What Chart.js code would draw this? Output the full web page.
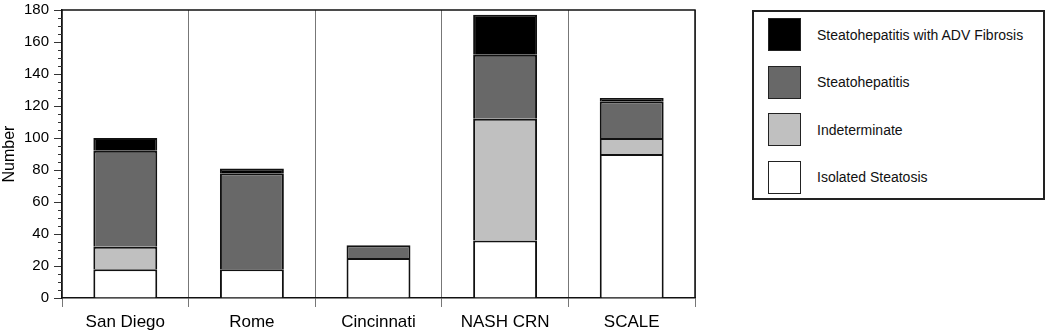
<!DOCTYPE html>
<html>
<head>
<meta charset="utf-8">
<script src="https://cdn.jsdelivr.net/npm/chart.js@4.4.1/dist/chart.umd.min.js"></script>
<style>
  body { margin: 0; background: #fff; font-family: "Liberation Sans", Arial, sans-serif; }
  #wrap { position: relative; width: 1050px; height: 336px; }
  #legend {
    position: absolute; left: 752px; top: 10px; width: 289px; height: 186px;
    border: 2px solid #222; background: #fff;
  }
  .item { position: absolute; left: 14px; height: 33px; display: flex; align-items: center; }
  .sw { width: 31px; height: 31px; border: 1.5px solid #222; margin-right: 16px; }
  .lbl { font-size: 14px; color: #111; }
</style>
</head>
<body>
<div id="wrap">
  <canvas id="chart" width="1050" height="336"></canvas>
  <div id="legend"></div>
</div>
<script>
var sites = ['San Diego', 'Rome', 'Cincinnati', 'NASH CRN', 'SCALE'];
var isolatedSteatosis = [18, 18, 25, 36, 90];
var indeterminate = [14, 0, 0, 76, 10];
var steatohepatitis = [60, 60, 8, 40, 23];
var advFibrosis = [8, 3, 0, 25, 2];
var yTicks = [0, 20, 40, 60, 80, 100, 120, 140, 160, 180];

// zero counts -> no segment at all
function noZero(arr) { return arr.map(function (v) { return v === 0 ? null : v; }); }

var datasets = [
  { label: 'Isolated Steatosis', data: noZero(isolatedSteatosis), backgroundColor: '#ffffff' },
  { label: 'Indeterminate', data: noZero(indeterminate), backgroundColor: '#c0c0c0' },
  { label: 'Steatohepatitis', data: noZero(steatohepatitis), backgroundColor: '#686868' },
  { label: 'Steatohepatitis with ADV Fibrosis', data: noZero(advFibrosis), backgroundColor: '#000000' }
];
datasets.forEach(function (d) {
  d.borderColor = '#111';
  d.borderWidth = { top: 2, left: 2, right: 2, bottom: 0 };
  d.borderSkipped = false;
  d.barPercentage = 0.505;
  d.categoryPercentage = 1.0;
});

// frame on top/right + minor ticks on the y axis
var framePlugin = {
  id: 'frame',
  afterDraw: function (chart) {
    var ctx = chart.ctx, a = chart.chartArea, y = chart.scales.y;
    ctx.save();
    ctx.strokeStyle = '#111';
    ctx.lineWidth = 1.5;
    ctx.beginPath();
    ctx.moveTo(a.left, a.top);
    ctx.lineTo(a.right, a.top);
    ctx.lineTo(a.right, a.bottom);
    ctx.stroke();
    ctx.lineWidth = 1;
    ctx.strokeStyle = '#333';
    for (var v = 5; v < 180; v += 5) {
      if (v % 20 === 0) continue;
      var py = Math.round(y.getPixelForValue(v)) + 0.5;
      ctx.beginPath();
      ctx.moveTo(a.left - 4, py);
      ctx.lineTo(a.left, py);
      ctx.stroke();
    }
    ctx.restore();
  }
};

var chart = new Chart(document.getElementById('chart'), {
  type: 'bar',
  data: { labels: sites, datasets: datasets },
  plugins: [framePlugin],
  options: {
    responsive: false,
    animation: false,
    layout: { padding: { left: 0, right: 355, top: 10, bottom: 0 } },
    plugins: { legend: { display: false }, tooltip: { enabled: false } },
    scales: {
      x: {
        stacked: true,
        afterFit: function (s) { s.height = 38; s.paddingLeft = 0; s.paddingRight = 0; },
        grid: { offset: true, color: '#777', lineWidth: 1, tickLength: 9, drawOnChartArea: true },
        border: { color: '#111', width: 1.5 },
        ticks: { color: '#000', font: { family: 'Liberation Sans', size: 17 }, padding: 5 }
      },
      y: {
        stacked: true,
        min: 0,
        max: 180,
        afterFit: function (s) { s.width = 62; s.paddingTop = 0; s.paddingBottom = 0; },
        afterBuildTicks: function (s) { s.ticks = yTicks.map(function (v) { return { value: v }; }); },
        grid: { drawOnChartArea: false, color: '#333', tickLength: 8 },
        border: { color: '#111', width: 1.5 },
        ticks: { color: '#000', font: { family: 'Liberation Sans', size: 15 }, padding: 5 },
        title: { display: true, text: 'Number', color: '#000', font: { family: 'Liberation Sans', size: 16 }, padding: 0 }
      }
    }
  }
});

// legend box, top entry = top of the stack
var legend = document.getElementById('legend');
datasets.slice().reverse().forEach(function (d, i) {
  var item = document.createElement('div');
  item.className = 'item';
  item.style.top = (6 + i * 47.5) + 'px';
  item.innerHTML = '<div class="sw" style="background:' + d.backgroundColor + '"></div><span class="lbl">' + d.label + '</span>';
  legend.appendChild(item);
});
</script>
</body>
</html>
